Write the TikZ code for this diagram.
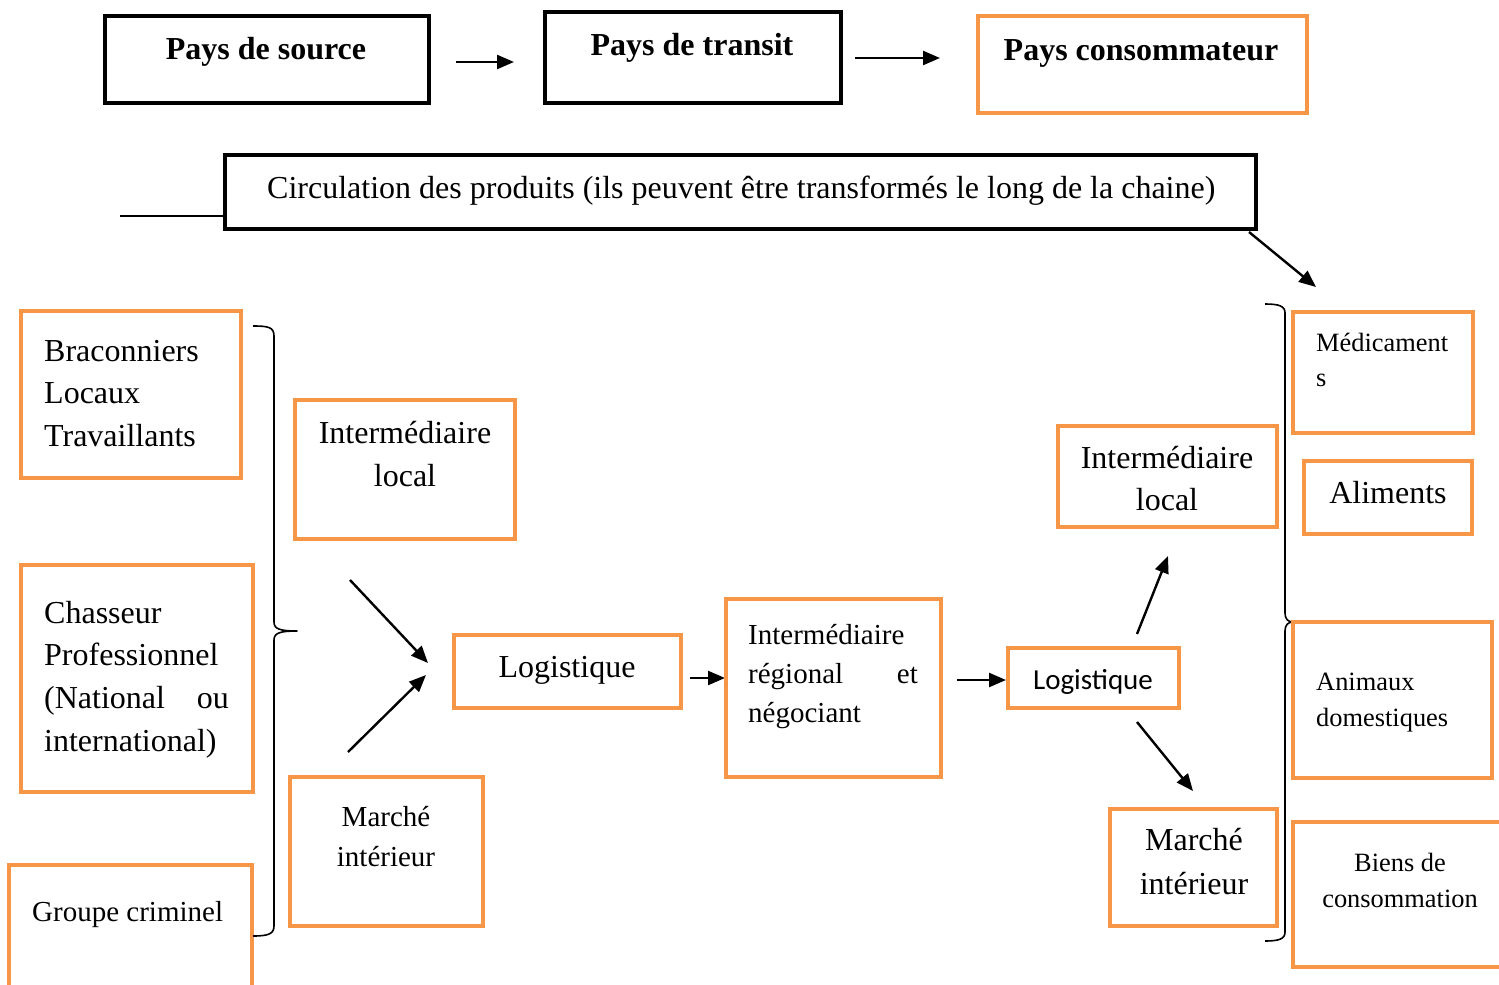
\documentclass[tikz,border=0pt]{standalone}
\usepackage{fontspec}
\setmainfont{Liberation Serif}
\newfontfamily\calfont{Carlito}
\usetikzlibrary{arrows.meta,calc}
\definecolor{boxorange}{HTML}{F79646}
\begin{document}
\begin{tikzpicture}[x=1pt,y=-1pt,
  obox/.style={draw=boxorange,line width=4pt,rectangle,inner sep=0pt,outer sep=0pt,anchor=north west},
  kbox/.style={draw=black,line width=4pt,rectangle,inner sep=0pt,outer sep=0pt,anchor=north west},
  tb/.style={inner sep=0pt,anchor=base,font=\fontsize{32}{38}\selectfont},
  tbl/.style={inner sep=0pt,anchor=base west,font=\fontsize{32}{38}\selectfont},
  tm/.style={inner sep=0pt,anchor=base,font=\fontsize{29}{35}\selectfont},
  tml/.style={inner sep=0pt,anchor=base west,font=\fontsize{29}{35}\selectfont},
  ts/.style={inner sep=0pt,anchor=base,font=\fontsize{26.4}{32}\selectfont},
  tsl/.style={inner sep=0pt,anchor=base west,font=\fontsize{26.4}{32}\selectfont},
  bold/.style={inner sep=0pt,anchor=base,font=\fontsize{32}{38}\selectfont\bfseries},
  arr/.style={line width=2.4pt,-{Triangle[length=17pt,width=14pt]}},
  brace/.style={line width=1.6pt,line join=round}]
\useasboundingbox (0,0) rectangle (1499,985);
% top row
\node[kbox,minimum width=324pt,minimum height=87pt] (src) at (105,16) {};
\node[kbox,minimum width=296pt,minimum height=91pt] (tra) at (545,12) {};
\node[obox,minimum width=329pt,minimum height=97pt] (con) at (978,16) {};
\node[bold] (srct) at (266,59) {Pays de source};
\node[bold] (trat) at (692,55) {Pays de transit};
\node[bold] (cont) at (1141,60) {Pays consommateur};
\coordinate (a1s) at (456,62); \coordinate (a1e) at (514,62);
\coordinate (a2s) at (855,58); \coordinate (a2e) at (940,58);
\draw[arr] (a1s) -- (a1e);
\draw[arr] (a2s) -- (a2e);
% circulation
\node[kbox,minimum width=1031pt,minimum height=74pt] (circ) at (225,155) {};
\node[tbl] (circt) at (267,198) {Circulation des produits (ils peuvent être transformés le long de la chaine)};
\coordinate (lstart) at (120,216);
\draw[line width=1.8pt] (lstart) -- (lstart -| circ.west);
\coordinate (a3s) at (1249,232); \coordinate (a3e) at (1316,287);
\draw[arr] (a3s) -- (a3e);
% left column
\node[obox,minimum width=220pt,minimum height=167pt] (brac) at (21,311) {};
\node[tbl] at (44,361) {Braconniers};
\node[tbl] at (44,403) {Locaux};
\node[tbl] at (44,446) {Travaillants};
\node[obox,minimum width=232pt,minimum height=227pt] (chas) at (21,565) {};
\node[tbl] at (44,623) {Chasseur};
\node[tbl] at (44,665) {Professionnel};
\node[tbl] at (44,708) {(National};
\node[tb,anchor=base east] at (229,708) {ou};
\node[tbl] at (44,751) {international)};
\node[obox,minimum width=243pt,minimum height=140pt] (grp) at (9,865) {};
\node[tml] at (32,921) {Groupe criminel};
% left brace
\draw[brace] (253,326) .. controls (268,326) and (274,327) .. (274,336) -- (274,622)
  .. controls (274,629) and (280,631) .. (297,631)
  .. controls (280,631) and (274,633) .. (274,640) -- (274,926)
  .. controls (274,934) and (268,936) .. (253,936);
% second column
\node[obox,minimum width=220pt,minimum height=139pt] (ilL) at (295,400) {};
\node[tb] at (405,443) {Intermédiaire};
\node[tb] at (405,486) {local};
\node[obox,minimum width=193pt,minimum height=149pt] (mkL) at (290,777) {};
\node[tm] at (386,826) {Marché};
\node[tm] at (386,866) {intérieur};
\coordinate (a4s) at (350,580); \coordinate (a4e) at (428,663);
\coordinate (a5s) at (348,752); \coordinate (a5e) at (426,675);
\draw[arr] (a4s) -- (a4e);
\draw[arr] (a5s) -- (a5e);
% middle chain
\node[obox,minimum width=227pt,minimum height=73pt] (logL) at (454,635) {};
\node[tb] at (567,677) {Logistique};
\coordinate (a6s) at (690,678); \coordinate (a6e) at (725,678);
\draw[arr] (a6s) -- (a6e);
\node[obox,minimum width=215pt,minimum height=178pt] (ireg) at (726,599) {};
\node[tml] at (748,644) {Intermédiaire};
\node[tml] at (748,683) {régional};
\node[tm,anchor=base east] at (918,683) {et};
\node[tml] at (748,722) {négociant};
\coordinate (a7s) at (957,680); \coordinate (a7e) at (1006,680);
\draw[arr] (a7s) -- (a7e);
\node[obox,minimum width=171pt,minimum height=60pt] (logR) at (1008,648) {};
\node[tm,font=\fontsize{29}{35}\calfont] at (1093,689) {Logistique};
\coordinate (a8s) at (1137,634); \coordinate (a8e) at (1168,556);
\coordinate (a9s) at (1137,722); \coordinate (a9e) at (1193,791);
\draw[arr] (a8s) -- (a8e);
\draw[arr] (a9s) -- (a9e);
\node[obox,minimum width=219pt,minimum height=101pt] (ilR) at (1058,426) {};
\node[tb] at (1167,468) {Intermédiaire};
\node[tb] at (1167,510) {local};
\node[obox,minimum width=167pt,minimum height=117pt] (mkR) at (1110,809) {};
\node[tb] at (1194,850) {Marché};
\node[tb] at (1194,894) {intérieur};
% right brace
\draw[brace] (1265,304) .. controls (1279,304) and (1285,306) .. (1285,313) -- (1285,613)
  .. controls (1285,619) and (1288,622) .. (1293,622)
  .. controls (1288,622) and (1285,625) .. (1285,631) -- (1285,932)
  .. controls (1285,939) and (1279,941) .. (1265,941);
% products
\node[obox,minimum width=180pt,minimum height=121pt] (med) at (1293,312) {};
\node[tsl] at (1316,351) {Médicament};
\node[tsl] at (1316,386) {s};
\node[obox,minimum width=168pt,minimum height=73pt] (ali) at (1304,461) {};
\node[tb] at (1388,503) {Aliments};
\node[obox,minimum width=199pt,minimum height=156pt] (ani) at (1293,622) {};
\node[tsl] at (1316,690) {Animaux};
\node[tsl] at (1316,726) {domestiques};
\node[obox,minimum width=215pt,minimum height=145pt] (bie) at (1293,822) {};
\node[ts] at (1400,871) {Biens de};
\node[ts] at (1400,907) {consommation};
\end{tikzpicture}
\end{document}
